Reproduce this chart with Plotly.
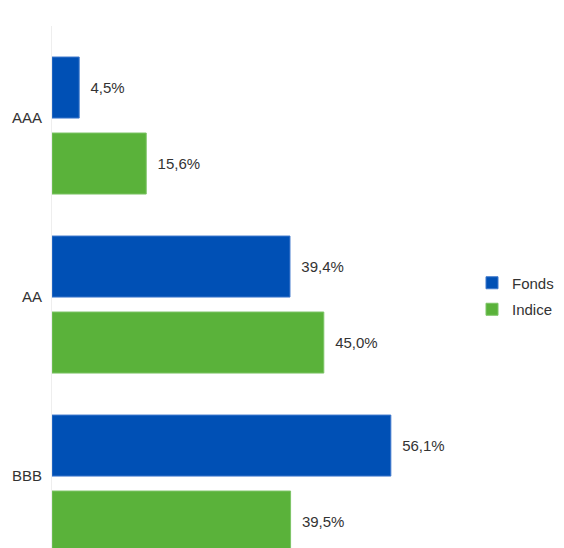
import plotly.graph_objects as go

categories = ["AAA", "AA", "BBB"]
fonds = [4.5, 39.4, 56.1]
indice = [15.6, 45.0, 39.5]
series_names = ["Fonds", "Indice"]

def fmt(v):
    return "\u00a0\u00a0" + f"{v:.1f}".replace(".", ",") + "%"

# page has an 8px body margin, so figure is 556 x 540
W, H = 556, 540
ml, mr, mt, mb = 44, 94, 18, 0
px_per_pct = 6.04
plot_w = W - ml - mr
plot_h = H - mt - mb
xmax = plot_w / px_per_pct
legend_left_px = 464
legend_x = (legend_left_px - ml) / plot_w
legend_center_px = 288
legend_y = 1 - (legend_center_px - mt) / plot_h

fig = go.Figure()
fig.add_trace(go.Bar(
    y=categories, x=fonds, orientation="h", name=series_names[0], legendgroup="f",
    marker=dict(color="#0050B5", line=dict(color="#3f78cc", width=1)),
    text=[fmt(v) for v in fonds], textposition="outside", cliponaxis=False,
    textfont=dict(color="#333333", size=15),
))
fig.add_trace(go.Bar(
    y=categories, x=indice, orientation="h", name=series_names[1], legendgroup="i",
    marker=dict(color="#5AB23A", line=dict(color="#7cc466", width=1)),
    text=[fmt(v) for v in indice], textposition="outside", cliponaxis=False,
    textfont=dict(color="#333333", size=15),
))

fig.update_layout(
    width=W, height=H,
    margin=dict(l=ml, r=mr, t=mt, b=mb, pad=0, autoexpand=False),
    paper_bgcolor="white", plot_bgcolor="white",
    font=dict(family="Liberation Sans, Arial, sans-serif", size=15, color="#333333"),
    barmode="group", bargap=0.151, bargroupgap=0.197,
    showlegend=True,
    legend=dict(x=legend_x, y=legend_y, xanchor="left", yanchor="middle",
                font=dict(size=15, color="#333333"), bgcolor="rgba(0,0,0,0)",
                itemwidth=30, borderwidth=0, traceorder="grouped", tracegroupgap=4),
)
fig.update_xaxes(range=[0, xmax], showgrid=False, zeroline=False, showticklabels=False,
                 showline=False, ticks="", automargin=False)
fig.update_yaxes(range=[2.36, -0.556], autorange=False, showgrid=False, zeroline=False,
                 showline=True, linecolor="#eeeeee", linewidth=1, ticks="",
                 ticklabelstandoff=6, ticklabelshift=8, automargin=False)

fig.write_html("out.html")
